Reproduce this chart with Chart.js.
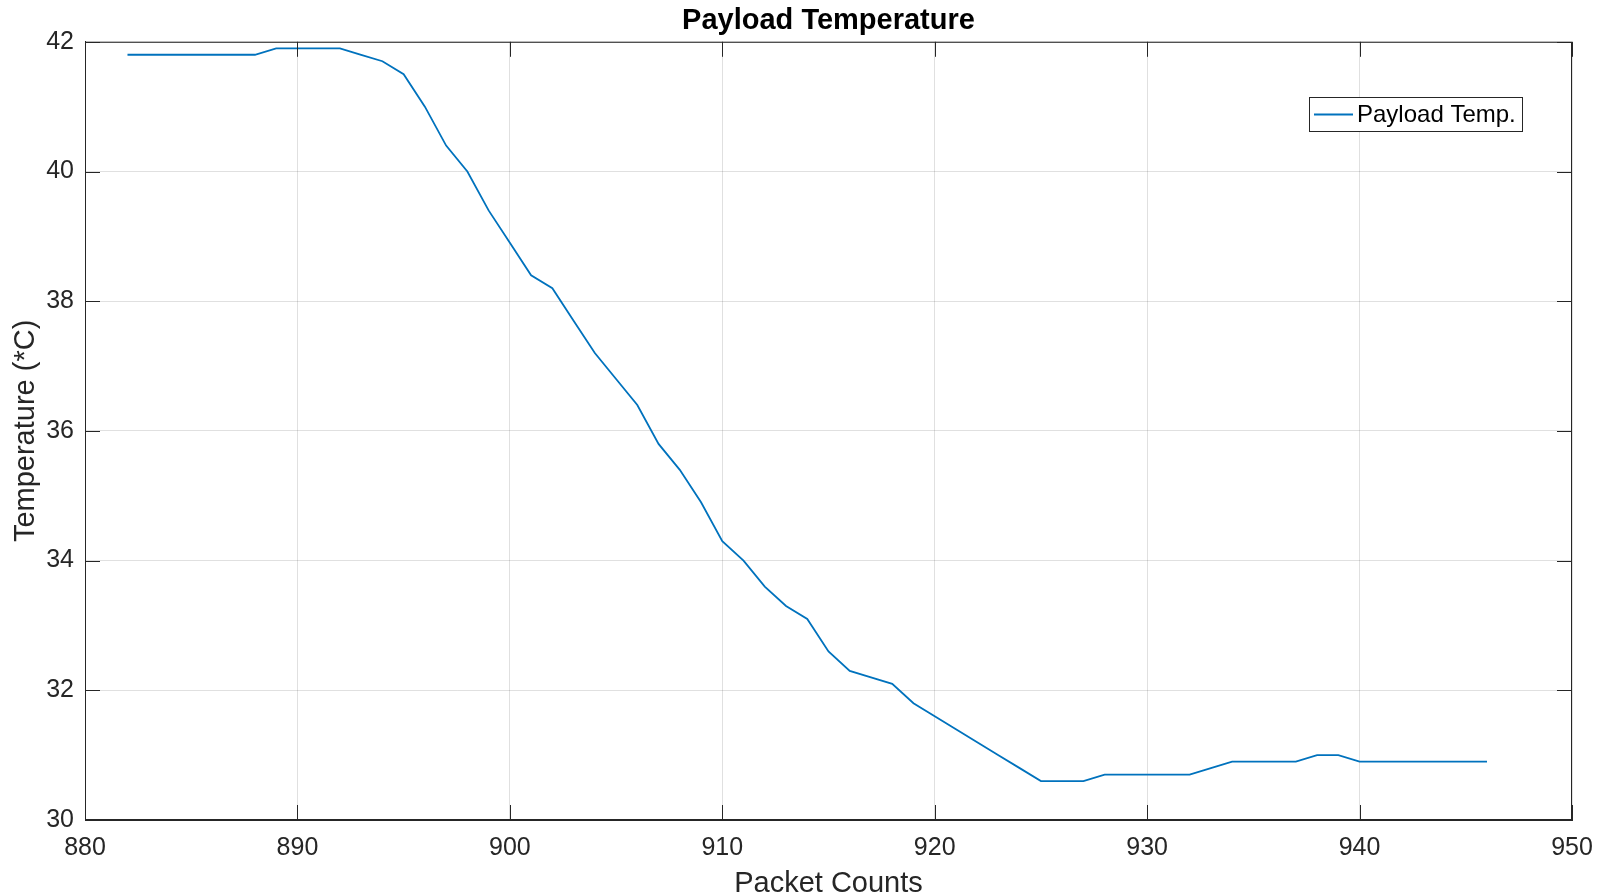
<!DOCTYPE html>
<html>
<head>
<meta charset="utf-8">
<script src="https://cdn.jsdelivr.net/npm/chart.js@4"></script>
<style>
  html, body { margin: 0; padding: 0; background: #fff; }
  #wrap { width: 1610px; height: 896px; }
</style>
</head>
<body>
<div id="wrap"><canvas id="tempChart" width="1610" height="896"></canvas></div>
<script>
// Payload temperature per packet count
const packetCounts = [882, 883, 884, 885, 886, 887, 888, 889, 890, 891, 892, 893, 894, 895, 896, 897, 898, 899, 900,
    901, 902, 903, 904, 905, 906, 907, 908, 909, 910, 911, 912, 913, 914, 915, 916, 917, 918, 919, 920,
    921, 922, 923, 924, 925, 926, 927, 928, 929, 930, 931, 932, 933, 934, 935, 936, 937, 938, 939, 940,
    941, 942, 943, 944, 945, 946];
const payloadTemp = [41.8, 41.8, 41.8, 41.8, 41.8, 41.8, 41.8, 41.9, 41.9, 41.9, 41.9, 41.8, 41.7, 41.5, 41.0, 40.4, 40.0, 39.4, 38.9,
    38.4, 38.2, 37.7, 37.2, 36.8, 36.4, 35.8, 35.4, 34.9, 34.3, 34.0, 33.6, 33.3, 33.1, 32.6, 32.3, 32.2, 32.1, 31.8, 31.6,
    31.4, 31.2, 31.0, 30.8, 30.6, 30.6, 30.6, 30.7, 30.7, 30.7, 30.7, 30.7, 30.8, 30.9, 30.9, 30.9, 30.9, 31.0, 31.0, 30.9,
    30.9, 30.9, 30.9, 30.9, 30.9, 30.9];
const xTicks = [880, 890, 900, 910, 920, 930, 940, 950];
const yTicks = [30, 32, 34, 36, 38, 40, 42];

const axisColor = '#262626';
const fontFamily = '"Liberation Sans", Arial, Helvetica, sans-serif';

// box around the axes with inward tick marks, like the original plot
const boxTicks = {
    id: 'boxTicks',
    afterDraw(chart) {
        const ctx = chart.ctx;
        const a = chart.chartArea;
        const xs = chart.scales.x, ys = chart.scales.y;
        const len = 15;
        ctx.save();
        ctx.strokeStyle = axisColor;
        ctx.lineWidth = 1;
        ctx.strokeRect(a.left + 0.5, a.top + 0.5, a.right - a.left - 1, a.bottom - a.top - 1);
        ctx.beginPath();
        xTicks.forEach(v => {
            const px = Math.round(xs.getPixelForValue(v)) + 0.5;
            ctx.moveTo(px, a.bottom); ctx.lineTo(px, a.bottom - len);
            ctx.moveTo(px, a.top); ctx.lineTo(px, a.top + len);
        });
        yTicks.forEach(v => {
            const py = Math.round(ys.getPixelForValue(v)) + 0.5;
            ctx.moveTo(a.left, py); ctx.lineTo(a.left + len, py);
            ctx.moveTo(a.right, py); ctx.lineTo(a.right - len, py);
        });
        ctx.stroke();
        ctx.restore();
    }
};

// legend box in the upper right of the plot
const insideLegend = {
    id: 'insideLegend',
    afterDraw(chart) {
        const ctx = chart.ctx;
        const ds = chart.data.datasets[0];
        const x0 = 1309, y0 = 97, w = 213, h = 34;
        ctx.save();
        ctx.fillStyle = '#fff';
        ctx.fillRect(x0, y0, w, h);
        ctx.strokeStyle = axisColor;
        ctx.lineWidth = 1;
        ctx.strokeRect(x0 + 0.5, y0 + 0.5, w, h);
        ctx.strokeStyle = ds.borderColor;
        ctx.lineWidth = 1.8;
        ctx.beginPath();
        ctx.moveTo(x0 + 5, y0 + h / 2 + 0.5);
        ctx.lineTo(x0 + 44, y0 + h / 2 + 0.5);
        ctx.stroke();
        ctx.fillStyle = '#000';
        ctx.font = '24px ' + fontFamily;
        ctx.textBaseline = 'middle';
        ctx.fillText(ds.label, x0 + 48, y0 + h / 2 + 1);
        ctx.restore();
    }
};

const ctx = document.getElementById('tempChart').getContext('2d');
new Chart(ctx, {
    type: 'line',
    data: {
        datasets: [{
            label: 'Payload Temp.',
            data: packetCounts.map((c, i) => ({ x: c, y: payloadTemp[i] })),
            borderColor: '#0072BD',
            borderWidth: 1.8,
            pointRadius: 0,
            fill: false,
            tension: 0
        }]
    },
    options: {
        responsive: false,
        animation: false,
        layout: { padding: { left: 0, right: 38, top: 0, bottom: 0 } },
        plugins: {
            legend: { display: false },
            tooltip: { enabled: false },
            title: {
                display: true,
                fullSize: false,
                text: 'Payload Temperature',
                color: '#000',
                font: { family: fontFamily, size: 29, weight: 'bold' },
                padding: { top: 4, bottom: 3 }
            }
        },
        scales: {
            x: {
                type: 'linear',
                min: 880,
                max: 950,
                afterBuildTicks: s => { s.ticks = xTicks.map(v => ({ value: v })); },
                afterFit: s => { s.height = 76; },
                grid: { color: 'rgba(0,0,0,0.12)', drawTicks: false },
                border: { color: axisColor },
                ticks: { color: axisColor, padding: 13, font: { family: fontFamily, size: 25 } },
                title: {
                    display: true,
                    text: 'Packet Counts',
                    color: axisColor,
                    font: { family: fontFamily, size: 29 },
                    padding: { top: 0, bottom: -5 }
                }
            },
            y: {
                min: 30,
                max: 42,
                afterBuildTicks: s => { s.ticks = yTicks.map(v => ({ value: v })); },
                afterFit: s => { s.width = 85; },
                grid: { color: 'rgba(0,0,0,0.12)', drawTicks: false },
                border: { color: axisColor },
                ticks: { color: axisColor, padding: 11, font: { family: fontFamily, size: 25 } },
                title: {
                    display: true,
                    text: 'Temperature (*C)',
                    color: axisColor,
                    font: { family: fontFamily, size: 29 },
                    padding: { top: 9, bottom: 0 }
                }
            }
        }
    },
    plugins: [boxTicks, insideLegend]
});
</script>
</body>
</html>
